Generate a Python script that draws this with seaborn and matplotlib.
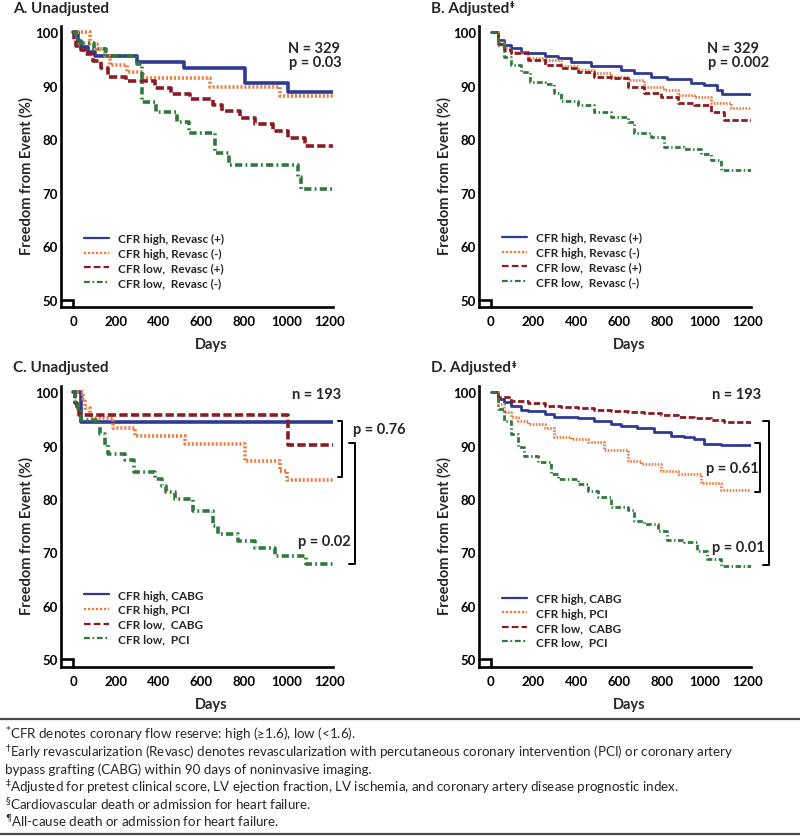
import numpy as np
import pandas as pd
import matplotlib
matplotlib.use("Agg")
import matplotlib.pyplot as plt
from matplotlib.lines import Line2D
from matplotlib.ticker import MultipleLocator
import seaborn as sns

sns.set_theme(style="white")
plt.rcParams['font.family'] = ['Lato', 'DejaVu Sans']

# ---------------- data ----------------
END_DAY = 1215
x_ticks = [0, 200, 400, 600, 800, 1000, 1200]
x_ticklabels = ["0", "200", "400", "600", "800", "1000", "1200"]
y_ticks = [50, 60, 70, 80, 90, 100]
y_ticklabels = ["50", "60", "70", "80", "90", "100"]

labels_top = ["CFR high, Revasc (+)", "CFR high, Revasc (-)", "CFR low,  Revasc (+)", "CFR low,  Revasc (-)"]
labels_bottom = ["CFR high, CABG", "CFR high, PCI", "CFR low,  CABG", "CFR low,  PCI"]

# Panel A (unadjusted KM)
A_blue_days = [0, 20, 38, 70, 100, 296, 517, 806, 1005]
A_blue_surv = [100, 98.3, 97.2, 96.3, 95.6, 94.4, 93.3, 90.5, 88.9]
A_orange_days = [0, 80, 110, 150, 171, 249, 327, 639, 966]
A_orange_surv = [100, 97.8, 96.8, 95.5, 93.8, 92.5, 91.5, 89.8, 88.15]
A_red_days = [0, 5, 12, 35, 55, 90, 130, 160, 248, 381, 459, 545, 655, 694, 780, 850, 936, 1006, 1084]
A_red_surv = [100, 98.5, 97.5, 96.6, 95.9, 94.7, 93.4, 91.7, 90.8, 89.6, 88.5, 87.5, 86.4, 85.2, 84.0, 82.9, 81.5, 80.3, 78.8]
A_green_days = [0, 12, 30, 95, 155, 300, 320, 385, 483, 540, 665, 728, 1052, 1064]
A_green_surv = [100, 98.8, 98.0, 96.8, 95.6, 94.0, 86.9, 85.0, 83.2, 81.1, 77.4, 75.1, 72.9, 70.6]

# Panel B (adjusted)
B_blue_days = [0, 34, 65, 96, 143, 174, 252, 314, 376, 469, 609, 671, 748, 826, 935, 997, 1059, 1082]
B_blue_surv = [100, 98.6, 97.6, 97.0, 96.4, 96.1, 95.6, 95.1, 94.4, 93.75, 92.9, 92.3, 91.7, 91.25, 90.6, 90.1, 89.2, 88.4]
B_orange_days = [0, 34, 65, 96, 174, 252, 329, 407, 484, 562, 640, 717, 811, 873, 950, 1028, 1121]
B_orange_surv = [100, 98.25, 97.0, 96.4, 95.1, 94.8, 93.6, 92.9, 92.3, 91.7, 91.1, 89.8, 89.2, 88.25, 87.9, 86.7, 85.75]
B_red_days = [0, 34, 65, 96, 174, 252, 329, 407, 484, 562, 640, 717, 795, 873, 950, 1028, 1090]
B_red_surv = [100, 97.9, 96.7, 96.1, 94.8, 93.9, 93.25, 92.6, 91.7, 91.4, 89.8, 88.6, 87.9, 86.7, 86.4, 85.0, 83.5]
B_green_days = [0, 34, 65, 96, 143, 182, 252, 298, 329, 407, 484, 562, 640, 671, 748, 811, 904, 981, 1028, 1075]
B_green_surv = [100, 97.6, 95.4, 93.9, 92.6, 90.75, 90.25, 88.6, 87.1, 86.4, 85.0, 84.2, 83.25, 81.1, 80.4, 78.6, 78.25, 77.3, 76.1, 74.2]

# Panel C (unadjusted KM, revascularized)
C_blue_days = [0, 38]
C_blue_surv = [100, 94.4]
C_orange_days = [0, 45, 55, 80, 186, 288, 522, 803, 967, 1000]
C_orange_surv = [100, 98.7, 97.0, 95.2, 93.4, 91.8, 90.3, 87.1, 85.2, 83.5]
C_red_days = [0, 8, 15, 25, 1003]
C_red_surv = [100, 98.0, 96.8, 95.8, 90.2]
C_green_days = [0, 7, 23, 38, 108, 124, 147, 163, 241, 285, 381, 413, 436, 475, 561, 654, 678, 771, 849, 943, 1091]
C_green_surv = [100, 98.4, 96.6, 94.8, 94.4, 92.2, 90.2, 88.4, 87.3, 85.0, 83.75, 82.5, 81.25, 80.0, 77.7, 75.0, 73.4, 72.2, 70.9, 69.4, 67.8]

# Panel D (adjusted, revascularized)
D_blue_days = [0, 34, 65, 96, 143, 174, 252, 298, 407, 484, 562, 609, 686, 764, 842, 904, 950, 997, 1075]
D_blue_surv = [100, 98.75, 98.1, 97.5, 96.7, 96.4, 95.9, 95.4, 95.2, 94.7, 94.1, 93.6, 93.25, 92.5, 91.9, 91.6, 91.25, 90.4, 90.1]
D_orange_days = [0, 34, 65, 96, 127, 174, 252, 298, 376, 453, 531, 640, 702, 795, 873, 981, 1075]
D_orange_surv = [100, 97.8, 96.25, 95.3, 94.7, 94.1, 93.4, 91.6, 91.25, 90.6, 89.1, 87.2, 86.6, 85.2, 84.7, 83.1, 81.7]
D_red_days = [0, 34, 96, 174, 252, 329, 407, 484, 562, 640, 717, 795, 873, 950, 1028, 1090]
D_red_surv = [100, 99.1, 98.4, 97.9, 97.5, 97.3, 97.1, 96.7, 96.4, 96.25, 96.1, 95.8, 95.4, 95.2, 94.8, 94.5]
D_green_days = [0, 34, 65, 96, 127, 158, 220, 283, 314, 407, 453, 500, 562, 640, 671, 717, 780, 826, 904, 966, 1012, 1075]
D_green_surv = [100, 96.9, 94.7, 92.2, 89.7, 88.1, 86.9, 84.7, 83.75, 82.8, 81.6, 80.3, 78.6, 77.9, 75.9, 75.3, 74.1, 72.3, 71.9, 70.3, 68.75, 67.5]

footnotes = [
    r"$^{*}$CFR denotes coronary flow reserve: high (≥1.6), low (<1.6).",
    r"$^{†}$Early revascularization (Revasc) denotes revascularization with percutaneous coronary intervention (PCI) or coronary artery",
    "bypass grafting (CABG) within 90 days of noninvasive imaging.",
    r"$^{‡}$Adjusted for pretest clinical score, LV ejection fraction, LV ischemia, and coronary artery disease prognostic index.",
    r"$^{§}$Cardiovascular death or admission for heart failure.",
    r"$^{¶}$All-cause death or admission for heart failure.",
]

# ---------------- style ----------------
COLORS = ["#2E3A93", "#F0783A", "#8A1C24", "#2E7A3A"]
DASHES_THICK = ["", (0.55, 0.55), (2.3, 0.9), (2.0, 0.9, 0.5, 0.9)]

W, H = 800, 837
fig = plt.figure(figsize=(W / 100, H / 100), dpi=100)


def ax_rect(left_px, top_px, right_px, bottom_px):
    return [left_px / W, 1 - bottom_px / H, (right_px - left_px) / W, (bottom_px - top_px) / H]


YLIM = (48.6, 101.25)


def draw_panel(ax, series, labels, lw, xleft, legend_anchor):
    frames = []
    for lab, (d, s) in zip(labels, series):
        frames.append(pd.DataFrame({"day": list(d) + [END_DAY],
                                    "surv": list(s) + [s[-1]],
                                    "group": lab}))
    df = pd.concat(frames, ignore_index=True)
    palette = dict(zip(labels, COLORS))
    dashes = dict(zip(labels, DASHES_THICK))
    sns.lineplot(data=df, x="day", y="surv", hue="group", style="group",
                 hue_order=labels, style_order=labels, palette=palette,
                 dashes=dashes, drawstyle="steps-post", estimator=None,
                 sort=False, lw=lw, legend=False, ax=ax)
    ax.set_xlim(xleft, 1216)
    ax.set_ylim(*YLIM)
    ax.set_xticks(x_ticks)
    ax.set_xticklabels(x_ticklabels, fontweight="bold", fontsize=9.5)
    ax.set_yticks(y_ticks)
    ax.set_yticklabels(y_ticklabels, fontweight="bold", fontsize=9.5)
    ax.xaxis.set_minor_locator(MultipleLocator(100))
    ax.yaxis.set_minor_locator(MultipleLocator(5))
    ax.tick_params(axis="x", which="major", direction="in", length=7.5, width=1.5, pad=6, colors="black")
    ax.tick_params(axis="x", which="minor", direction="in", length=3.5, width=1.5)
    ax.tick_params(axis="y", which="major", direction="in", length=6, width=1.5, pad=2, colors="black")
    ax.tick_params(axis="y", which="minor", direction="in", length=4.5, width=1.5)
    sns.despine(ax=ax)
    for sp in ["left", "bottom"]:
        ax.spines[sp].set_linewidth(1.9)
        ax.spines[sp].set_color("black")
    ax.set_xlabel("Days", fontsize=10.5, fontweight="bold")
    ax.set_ylabel("Freedom from Event (%)", fontsize=10.5, fontweight="bold")
    ax.xaxis.label.set_va("center")
    ax.yaxis.label.set_va("center")
    ax.xaxis.set_label_coords(0.553, -0.131)
    ax.yaxis.set_label_coords(-0.128, 0.468)
    # axis break mark
    ax.plot([xleft, 0, 0], [50, 50, YLIM[0]], color="black", lw=1.9, clip_on=False,
            solid_joinstyle="miter")
    # legend with thin proxy lines
    handles = []
    for c, dsh in zip(COLORS, [None, (1.0, 0.8), (3.0, 1.4), (2.6, 1.2, 0.8, 1.2)]):
        if dsh is None:
            handles.append(Line2D([], [], color=c, lw=1.6))
        else:
            handles.append(Line2D([], [], color=c, lw=1.6, dashes=dsh))
    ax.legend(handles, labels, loc="lower left", bbox_to_anchor=legend_anchor,
              frameon=False, handlelength=2.1, handletextpad=0.8, labelspacing=0.3,
              borderpad=0, borderaxespad=0,
              prop=dict(family=["Lato", "DejaVu Sans"], weight="bold", size=8.5))


axA = fig.add_axes(ax_rect(61, 26.6, 333, 308))
axB = fig.add_axes(ax_rect(479, 26.6, 751, 308))
axC = fig.add_axes(ax_rect(61, 386.6, 333, 667.7))
axD = fig.add_axes(ax_rect(479, 386.6, 751, 667.7))

draw_panel(axA, [(A_blue_days, A_blue_surv), (A_orange_days, A_orange_surv),
                 (A_red_days, A_red_surv), (A_green_days, A_green_surv)],
           labels_top, 2.6, -58, (0.085, 0.068))
draw_panel(axB, [(B_blue_days, B_blue_surv), (B_orange_days, B_orange_surv),
                 (B_red_days, B_red_surv), (B_green_days, B_green_surv)],
           labels_top, 2.0, -54, (0.085, 0.072))
draw_panel(axC, [(C_blue_days, C_blue_surv), (C_orange_days, C_orange_surv),
                 (C_red_days, C_red_surv), (C_green_days, C_green_surv)],
           labels_bottom, 2.6, -58, (0.085, 0.080))
draw_panel(axD, [(D_blue_days, D_blue_surv), (D_orange_days, D_orange_surv),
                 (D_red_days, D_red_surv), (D_green_days, D_green_surv)],
           labels_bottom, 2.0, -54, (0.085, 0.068))

# panel titles (superscript drawn as a small separate text)
fig.canvas.draw()
renderer = fig.canvas.get_renderer()


def panel_title(xpx, base_px, main, sup=None):
    t = fig.text(xpx / W, 1 - base_px / H, main, fontsize=11, fontweight="bold",
                 va="baseline", ha="left")
    if sup:
        ext = t.get_window_extent(renderer)
        fig.text((ext.x1 + 1.0) / W, 1 - (base_px - 11.0) / H, sup, fontsize=6.5,
                 fontweight="bold", va="top", ha="left", family=["DejaVu Sans"])


panel_title(13, 12.5, "A. Unadjusted")
panel_title(431, 12.5, "B. Adjusted", "‡")
panel_title(13, 372.5, "C. Unadjusted")
panel_title(431, 372.5, "D. Adjusted", "‡")

ann = dict(fontsize=10.5, fontweight="bold", va="center")
axA.text(1004, 97.0, "N = 329", ha="left", **ann)
axA.text(1010, 94.35, "p = 0.03", ha="left", **ann)
axB.text(1009, 97.0, "N = 329", ha="left", **ann)
axB.text(1015, 94.35, "p = 0.002", ha="left", **ann)
axC.text(1022, 99.7, "n = 193", ha="left", **ann)
axD.text(1032, 99.7, "n = 193", ha="left", **ann)


def bracket(ax, x_in, x_out, y_top, y_bot):
    ax.plot([x_in, x_out, x_out, x_in], [y_top, y_top, y_bot, y_bot],
            color="black", lw=1.4, clip_on=False)


bracket(axC, 1238, 1260, 94.7, 84.1)
bracket(axC, 1289, 1317, 90.5, 67.9)
axC.text(1308, 93.1, "p = 0.76", ha="left", clip_on=False, **ann)
axC.text(1299, 72.2, "p = 0.02", ha="right", **ann)
bracket(axD, 1271, 1299, 94.7, 67.7)
bracket(axD, 1237, 1260, 90.5, 81.3)
axD.text(1251, 85.8, "p = 0.61", ha="right", **ann)
axD.text(1282, 71.0, "p = 0.01", ha="right", **ann)

# footnote block
for ypx in (720, 835):
    fig.add_artist(Line2D([0, 1], [1 - ypx / H, 1 - ypx / H], transform=fig.transFigure,
                          color="#4a4a4a", lw=1.6))

fn_y = [735, 752.5, 769.5, 787.5, 805, 822]
fn_texts = []
for t, ypx in zip(footnotes, fn_y):
    fn_texts.append(fig.text(5 / W, 1 - ypx / H, t, fontsize=9, va="center", ha="left",
                             family=["Lato", "DejaVu Sans"]))
fig.canvas.draw()
r = fig.canvas.get_renderer()
wline = fn_texts[1].get_window_extent(r).width
scale = 730 / wline
for t in fn_texts:
    t.set_fontsize(9 * scale)

fig.savefig("out.png", dpi=100)
